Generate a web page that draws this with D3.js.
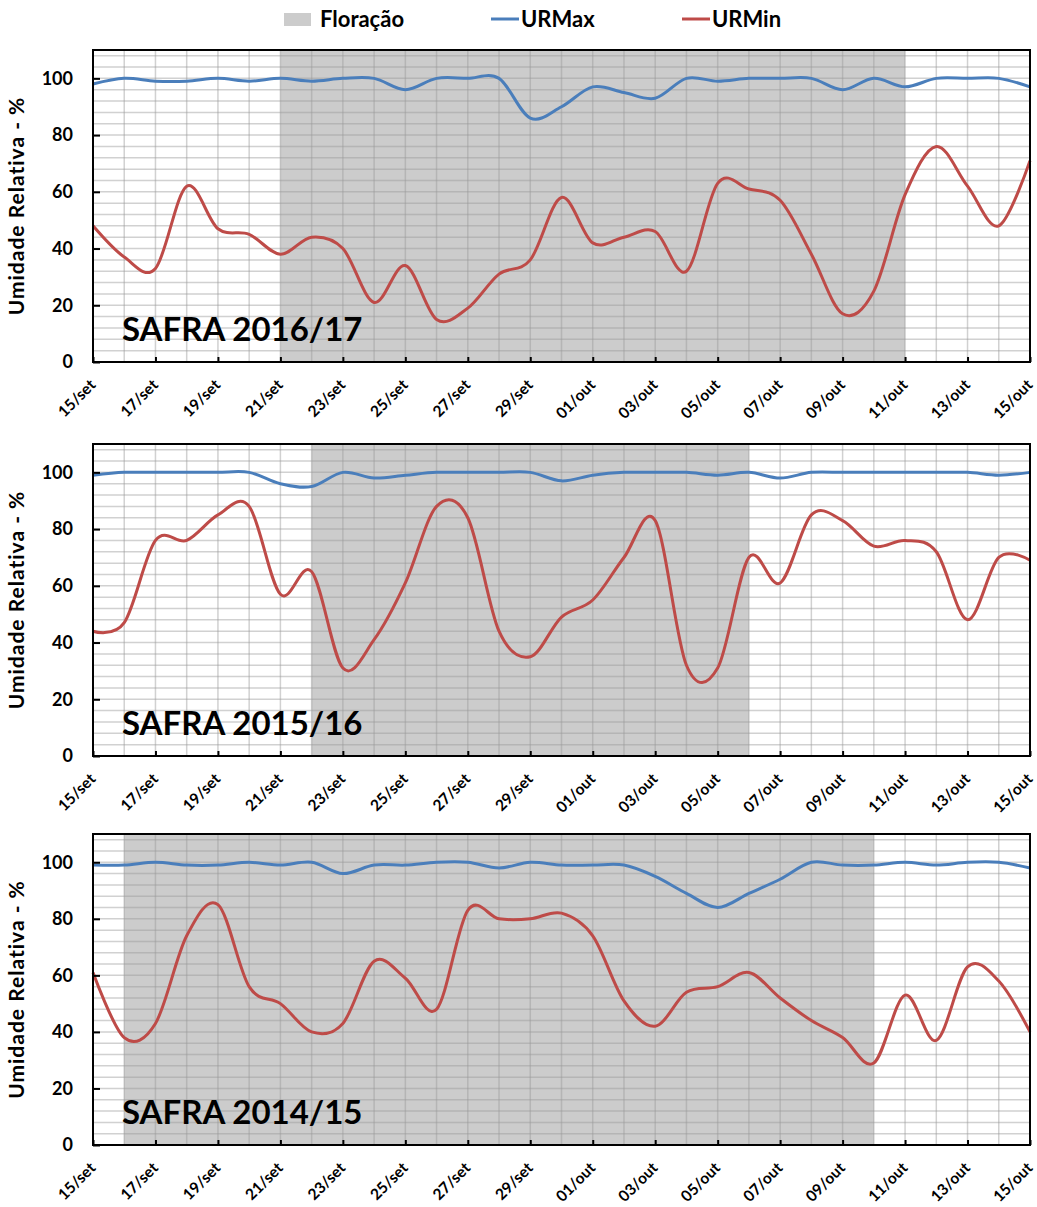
<!DOCTYPE html>
<html>
<head>
<meta charset="utf-8">
<script src="https://cdn.jsdelivr.net/npm/d3@7"></script>
<style>
  body { margin: 0; background: #fff; }
  text { font-family: Lato, "Open Sans", sans-serif; font-weight: bold; fill: #000; }
</style>
</head>
<body>
<script>
// dias do periodo
var days = ['15/set','16/set','17/set','18/set','19/set','20/set','21/set','22/set','23/set','24/set',
  '25/set','26/set','27/set','28/set','29/set','30/set','01/out','02/out','03/out','04/out','05/out',
  '06/out','07/out','08/out','09/out','10/out','11/out','12/out','13/out','14/out','15/out'];

var urMax1617 = [98,100,99,99,100,99,100,99,100,100,96,100,100,100,86,90,97,95,93,100,99,100,100,100,96,100,97,100,100,100,97];
var urMin1617 = [48,37,33,62,47,45,38,44,40,21,34,15,19,31,36,58,42,44,46,32,63,61,57,38,17,25,59,76,62,48,71];
var flor1617 = ['21/set','11/out'];

var urMax1516 = [99,100,100,100,100,100,96,95,100,98,99,100,100,100,100,97,99,100,100,100,99,100,98,100,100,100,100,100,100,99,100];
var urMin1516 = [44,47,76,76,85,88,57,65,31,41,61,88,84,44,35,49,55,70,83,32,31,70,61,85,83,74,76,72,48,70,69];
var flor1516 = ['22/set','06/out'];

var urMax1415 = [99,99,100,99,99,100,99,100,96,99,99,100,100,98,100,99,99,99,95,89,84,89,94,100,99,99,100,99,100,100,98];
var urMin1415 = [61,38,43,74,85,56,50,40,43,65,59,48,83,80,80,82,74,51,42,54,56,61,52,44,38,29,53,37,63,58,40];
var flor1415 = ['16/set','10/out'];

var yTicks = [0,20,40,60,80,100];
var legendNames = ['Floração','URMax','URMin'];

var blue = '#4a7ebb', red = '#be4b48', shade = '#cccccc';

var svg = d3.select('body').append('svg')
    .attr('width', 1037)
    .attr('height', 1207);

var left = 93, right = 1030;
var x = d3.scalePoint().domain(days).range([left, right]);

function drawPanel(top, bottom, maxVals, minVals, flor, title) {
  var y = d3.scaleLinear().domain([0, 110]).range([bottom, top]);
  var g = svg.append('g');

  // faixa de floracao
  g.append('rect')
      .attr('x', x(flor[0]))
      .attr('y', top)
      .attr('width', x(flor[1]) - x(flor[0]))
      .attr('height', bottom - top)
      .attr('fill', shade);

  // grade
  g.selectAll('.hg').data(d3.range(4, 110, 4)).enter().append('line')
      .attr('x1', left).attr('x2', right)
      .attr('y1', function(d) { return y(d); })
      .attr('y2', function(d) { return y(d); })
      .attr('stroke', '#999').attr('stroke-opacity', 0.45).attr('stroke-width', 1.5);
  g.selectAll('.vg').data(days.slice(1, days.length - 1)).enter().append('line')
      .attr('x1', function(d) { return x(d); })
      .attr('x2', function(d) { return x(d); })
      .attr('y1', top).attr('y2', bottom)
      .attr('stroke', '#999').attr('stroke-opacity', 0.45).attr('stroke-width', 1.5);

  var line = d3.line()
      .x(function(d, i) { return x(days[i]); })
      .y(function(d) { return y(d); })
      .curve(d3.curveCardinal.tension(0));

  g.append('path').datum(maxVals)
      .attr('d', line).attr('fill', 'none')
      .attr('stroke', blue).attr('stroke-width', 3);
  g.append('path').datum(minVals)
      .attr('d', line).attr('fill', 'none')
      .attr('stroke', red).attr('stroke-width', 3);

  // eixo y
  var ya = g.append('g')
      .attr('transform', 'translate(' + left + ',0)')
      .call(d3.axisLeft(y).tickValues(yTicks).tickSize(-7).tickPadding(20));
  ya.select('.domain').remove();
  ya.selectAll('line').attr('stroke', '#000').attr('stroke-width', 2);
  ya.selectAll('text').attr('font-size', 18).attr('font-family', null);

  // eixo x
  var xa = g.append('g')
      .attr('transform', 'translate(0,' + bottom + ')')
      .call(d3.axisBottom(x).tickValues(days.filter(function(d, i) { return i % 2 == 0; })).tickSize(-5));
  xa.select('.domain').remove();
  xa.selectAll('line').attr('stroke', '#000').attr('stroke-width', 2);
  xa.selectAll('text')
      .attr('font-size', 15.5).attr('font-family', null)
      .attr('x', 0).attr('y', 0).attr('dy', 0)
      .attr('text-anchor', 'end')
      .attr('transform', 'translate(3,24) rotate(-45)');

  // moldura
  g.append('rect')
      .attr('x', left).attr('y', top)
      .attr('width', right - left).attr('height', bottom - top)
      .attr('fill', 'none').attr('stroke', '#000').attr('stroke-width', 2);

  g.append('text')
      .attr('transform', 'translate(24,' + ((top + bottom) / 2) + ') rotate(-90)')
      .attr('text-anchor', 'middle')
      .attr('font-size', 21)
      .attr('letter-spacing', 1)
      .text('Umidade Relativa - %');

  g.append('text')
      .attr('x', 122).attr('y', bottom - 21)
      .attr('font-size', 33)
      .text(title);
}

drawPanel(50, 362, urMax1617, urMin1617, flor1617, 'SAFRA 2016/17');
drawPanel(444, 756, urMax1516, urMin1516, flor1516, 'SAFRA 2015/16');
drawPanel(834, 1145, urMax1415, urMin1415, flor1415, 'SAFRA 2014/15');

// legenda
var leg = svg.append('g');
leg.append('rect').attr('x', 284).attr('y', 13).attr('width', 27).attr('height', 13).attr('fill', shade);
leg.append('text').attr('x', 320).attr('y', 27).attr('font-size', 22).text(legendNames[0]);
leg.append('line').attr('x1', 491).attr('x2', 519).attr('y1', 19).attr('y2', 19).attr('stroke', blue).attr('stroke-width', 3);
leg.append('text').attr('x', 521).attr('y', 27).attr('font-size', 22).text(legendNames[1]);
leg.append('line').attr('x1', 682).attr('x2', 710).attr('y1', 19).attr('y2', 19).attr('stroke', red).attr('stroke-width', 3);
leg.append('text').attr('x', 712).attr('y', 27).attr('font-size', 22).text(legendNames[2]);
</script>
</body>
</html>
